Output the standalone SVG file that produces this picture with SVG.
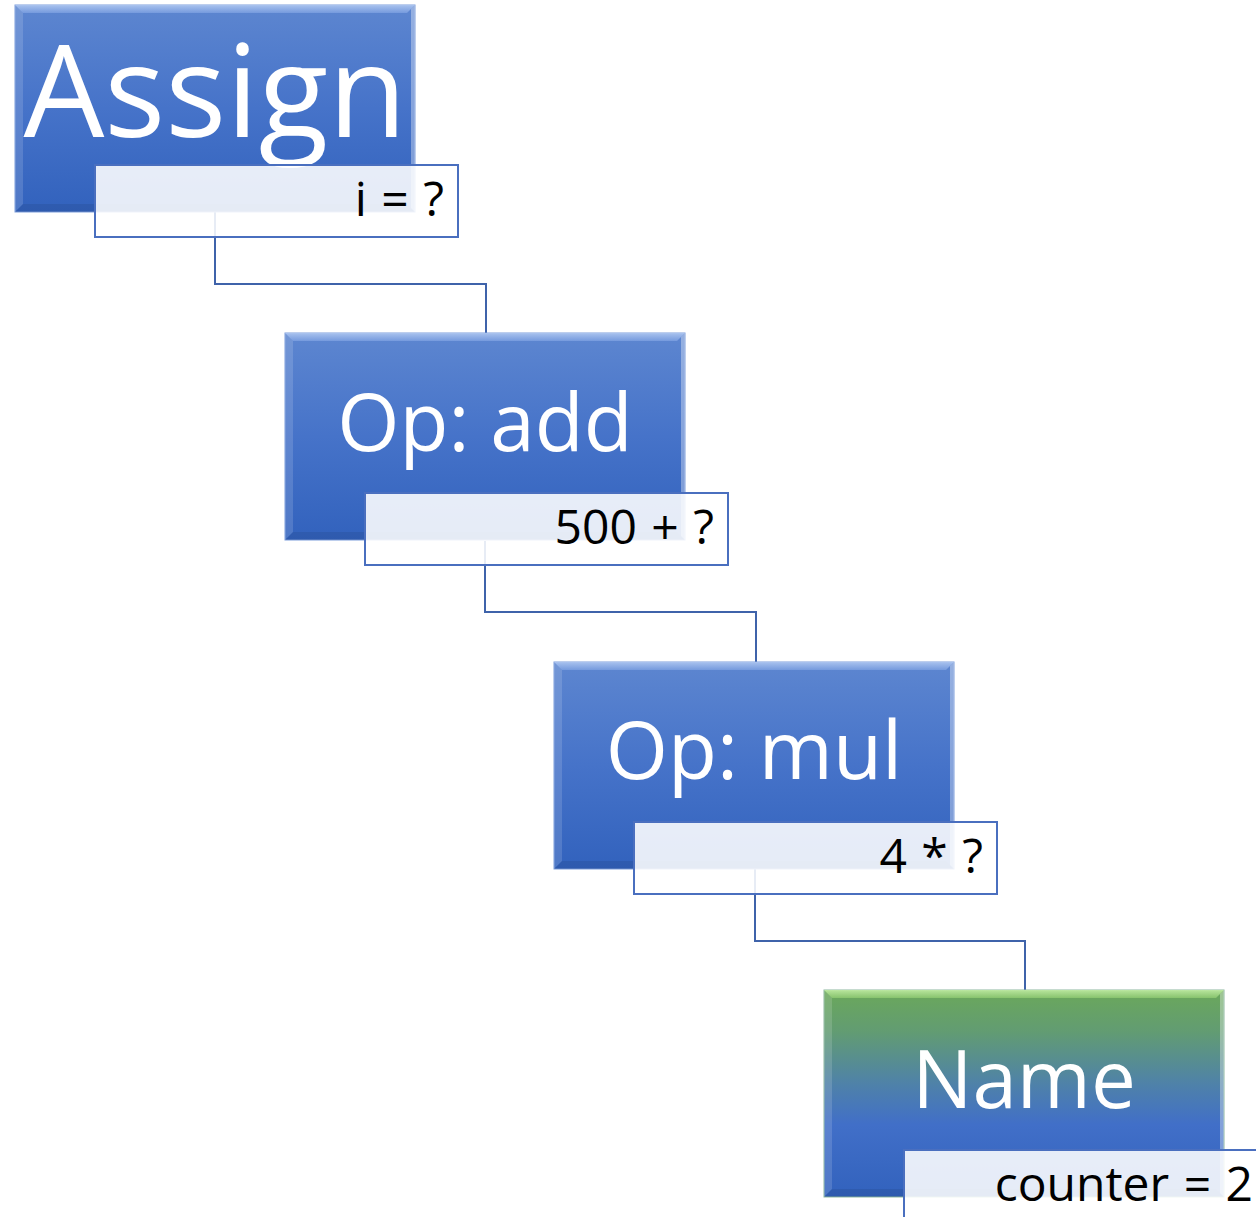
<svg xmlns="http://www.w3.org/2000/svg" width="1256" height="1217" viewBox="0 0 1256 1217">
  <defs>
    <linearGradient id="blueGrad" x1="0" y1="0" x2="0" y2="1">
      <stop offset="0" stop-color="#5D86D0"/>
      <stop offset="0.5" stop-color="#4673C9"/>
      <stop offset="1" stop-color="#3262BD"/>
    </linearGradient>
    <linearGradient id="greenGrad" x1="0" y1="0" x2="0" y2="1">
      <stop offset="0" stop-color="#6BA85A"/>
      <stop offset="0.2" stop-color="#629C72"/>
      <stop offset="0.45" stop-color="#4F82A8"/>
      <stop offset="0.65" stop-color="#416FC8"/>
      <stop offset="1" stop-color="#3262BD"/>
    </linearGradient>
    <linearGradient id="greenTop" x1="0" y1="0" x2="0" y2="1">
      <stop offset="0" stop-color="#C6F0A8"/>
      <stop offset="1" stop-color="#8CC870"/>
    </linearGradient>
    <linearGradient id="blueTop" x1="0" y1="0" x2="0" y2="1">
      <stop offset="0" stop-color="#B5CCF3"/>
      <stop offset="1" stop-color="#7A9EE0"/>
    </linearGradient>
  </defs>
  <style>
    .box { stroke: #7C9DDB; stroke-width: 1; }
    .bevelL { fill: #ffffff; fill-opacity: 0.14; }
    .bevelR { fill: #ffffff; fill-opacity: 0.35; }
    .bevelB { fill: #000000; fill-opacity: 0.08; }
    .label { fill: #ffffff; fill-opacity: 0.88; stroke: #4A6FBF; stroke-width: 2; }
    .big { font-family: "Open Sans", "Noto Sans", sans-serif; fill: #ffffff; text-anchor: middle; }
    .small { font-family: "Open Sans", "Noto Sans", sans-serif; fill: #000000; font-size: 48px; word-spacing: 2px; text-anchor: end; }
    .conn { fill: none; stroke: #3F63AA; stroke-width: 2; }
  </style>

  <g id="connectors">
    <path class="conn" d="M215,212 V284 H486 V333"/>
    <path class="conn" d="M485,541 V612 H756 V662"/>
    <path class="conn" d="M755,869 V941 H1025 V990"/>
  </g>

  <g id="node-assign" transform="translate(15,5)">
    <rect class="box" x="0" y="0" width="400" height="207" fill="url(#blueGrad)"/>
    <polygon points="0,0 400,0 392,8 8,8" fill="url(#blueTop)" opacity="0.85"/>
    <polygon class="bevelL" points="0,0 8,8 8,199 0,207"/>
    <polygon class="bevelR" points="400,0 400,207 396,203 396,4"/>
    <polygon class="bevelB" points="0,207 8,199 392,199 400,207"/>
    <text class="big" x="200" y="132" font-size="128">Assign</text>
    <rect class="label" x="80" y="160" width="363" height="72"/>
    <text class="small" x="429" y="211">i = ?</text>
  </g>

  <g id="node-add" transform="translate(285,333)">
    <rect class="box" x="0" y="0" width="400" height="207" fill="url(#blueGrad)"/>
    <polygon points="0,0 400,0 392,8 8,8" fill="url(#blueTop)" opacity="0.85"/>
    <polygon class="bevelL" points="0,0 8,8 8,199 0,207"/>
    <polygon class="bevelR" points="400,0 400,207 396,203 396,4"/>
    <polygon class="bevelB" points="0,207 8,199 392,199 400,207"/>
    <text class="big" x="200" y="118" font-size="80">Op: add</text>
    <rect class="label" x="80" y="160" width="363" height="72"/>
    <text class="small" x="429" y="211">500 + ?</text>
  </g>

  <g id="node-mul" transform="translate(554,662)">
    <rect class="box" x="0" y="0" width="400" height="207" fill="url(#blueGrad)"/>
    <polygon points="0,0 400,0 392,8 8,8" fill="url(#blueTop)" opacity="0.85"/>
    <polygon class="bevelL" points="0,0 8,8 8,199 0,207"/>
    <polygon class="bevelR" points="400,0 400,207 396,203 396,4"/>
    <polygon class="bevelB" points="0,207 8,199 392,199 400,207"/>
    <text class="big" x="200" y="117" font-size="80">Op: mul</text>
    <rect class="label" x="80" y="160" width="363" height="72"/>
    <text class="small" x="429" y="211">4 * ?</text>
  </g>

  <g id="node-name" transform="translate(824,990)">
    <rect class="box" x="0" y="0" width="400" height="207" fill="url(#greenGrad)" style="stroke:#8DB8A0"/>
    <polygon points="0,0 400,0 392,8 8,8" fill="url(#greenTop)" opacity="0.85"/>
    <polygon class="bevelL" points="0,0 8,8 8,199 0,207"/>
    <polygon class="bevelR" points="400,0 400,207 396,203 396,4"/>
    <polygon class="bevelB" points="0,207 8,199 392,199 400,207"/>
    <text class="big" x="200" y="118" font-size="80">Name</text>
    <rect class="label" x="80" y="160" width="363" height="72"/>
    <text class="small" x="429" y="211">counter = 2</text>
  </g>
</svg>
